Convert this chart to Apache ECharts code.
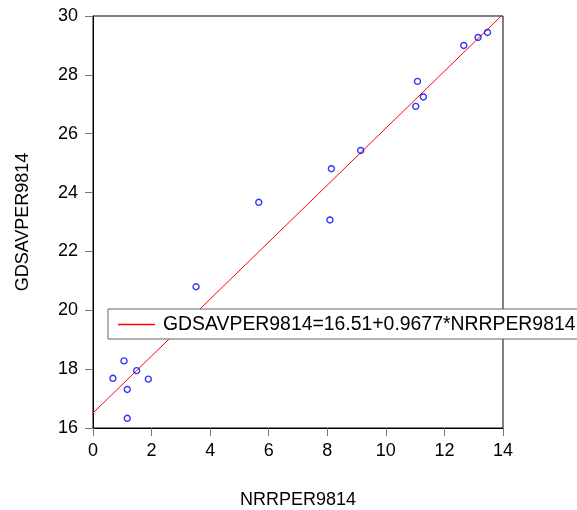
<!DOCTYPE html>
<html>
<head>
<meta charset="utf-8">
<script src="https://cdn.jsdelivr.net/npm/echarts@6/dist/echarts.min.js"></script>
<style>html,body{margin:0;padding:0;background:#fff;}#c{width:577px;height:510px;}</style>
</head>
<body>
<div id="c"></div>
<script>
var nrrper = [0.68, 1.06, 1.49, 1.89, 1.17, 1.17, 3.52, 5.66, 8.09, 8.14, 9.14, 11.02, 11.08, 11.28, 12.66, 13.15, 13.47];
var gdsaver = [17.69, 18.28, 17.95, 17.66, 17.31, 16.33, 20.80, 23.67, 23.07, 24.81, 25.43, 26.93, 27.78, 27.25, 29.00, 29.27, 29.44];
var fitX = [0, 14];
var fitY = [16.51, 30.06];
var xTicks = [0, 2, 4, 6, 8, 10, 12, 14];
var yTicks = [16, 18, 20, 22, 24, 26, 28, 30];
var legendLabel = 'GDSAVPER9814=16.51+0.9677*NRRPER9814';

var pts = nrrper.map(function (x, i) { return [x, gdsaver[i]]; });
var fit = fitX.map(function (x, i) { return [x, fitY[i]]; });
var font = 'Liberation Sans, Arial, sans-serif';

var chart = echarts.init(document.getElementById('c'), null, {renderer: 'canvas'});
chart.setOption({
  animation: false,
  backgroundColor: '#fff',
  textStyle: {fontFamily: font},
  grid: {left: 93, top: 16, width: 410, height: 412, containLabel: false, outerBoundsMode: 'none',
         show: true, borderColor: '#000', borderWidth: 1, backgroundColor: 'transparent'},
  legend: {
    data: [{name: legendLabel, icon: 'rect'}],
    left: 108, top: 309,
    padding: [6, 10, 5, 10],
    itemWidth: 37, itemHeight: 1.5,
    backgroundColor: '#fff',
    borderColor: '#666', borderWidth: 1,
    textStyle: {fontFamily: font, fontSize: 19.4, color: '#000', padding: [0, 0, 0, 3]}
  },
  xAxis: {
    type: 'value', min: xTicks[0], max: xTicks[xTicks.length - 1], interval: 2,
    name: 'NRRPER9814', nameLocation: 'middle', nameGap: 63,
    nameTextStyle: {fontFamily: font, fontSize: 18, color: '#000'},
    axisLine: {show: true, onZero: false, lineStyle: {color: '#000', width: 1}},
    axisTick: {show: true, inside: false, length: 8, lineStyle: {color: '#777'}},
    axisLabel: {fontFamily: font, fontSize: 18, color: '#000', margin: 14},
    splitLine: {show: false}
  },
  yAxis: {
    type: 'value', min: yTicks[0], max: yTicks[yTicks.length - 1], interval: 2,
    name: 'GDSAVPER9814', nameLocation: 'middle', nameGap: 61,
    nameTextStyle: {fontFamily: font, fontSize: 18, color: '#000'},
    axisLine: {show: true, onZero: false, lineStyle: {color: '#000', width: 1}},
    axisTick: {show: true, inside: false, length: 8, lineStyle: {color: '#777'}},
    axisLabel: {fontFamily: font, fontSize: 18, color: '#000', margin: 15},
    splitLine: {show: false}
  },
  series: [
    {
      type: 'scatter', name: 'points', data: pts,
      symbol: 'circle', symbolSize: 6,
      itemStyle: {color: 'rgba(0,0,0,0)', borderColor: '#0000ff', borderWidth: 1.4},
      z: 3
    },
    {
      type: 'line', name: legendLabel, data: fit,
      symbol: 'none', clip: true,
      lineStyle: {color: '#ff0000', width: 1},
      itemStyle: {color: '#ff0000'},
      z: 2
    }
  ]
});
</script>
</body>
</html>
